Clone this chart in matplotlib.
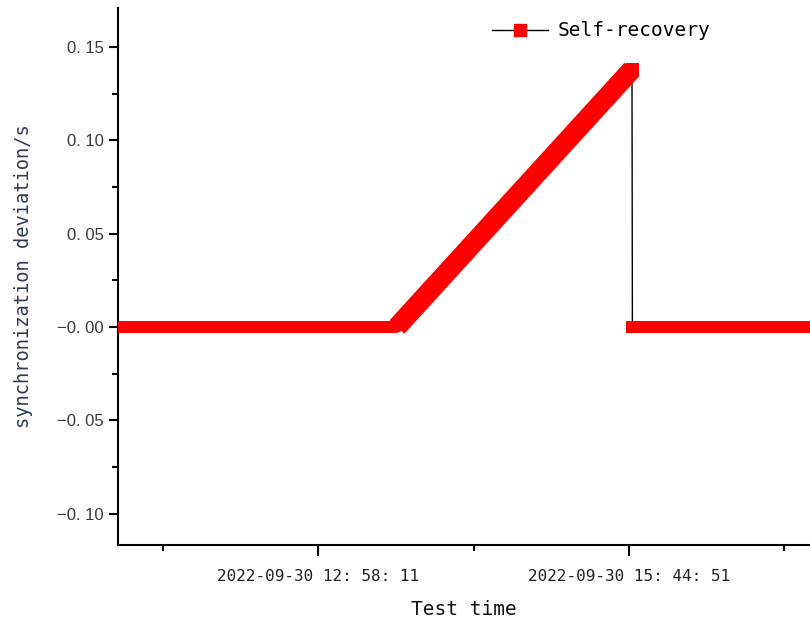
import matplotlib
matplotlib.use("Agg")
import matplotlib.pyplot as plt
import matplotlib.dates as mdates
from matplotlib.patches import Rectangle
from matplotlib.ticker import FixedLocator
import pandas as pd

# data
rise_times = ['2022-09-30 11:11:00', '2022-09-30 13:40:31', '2022-09-30 15:46:27']
rise_dev = [0.0, 0.0, 0.138]
after_times = ['2022-09-30 15:46:40', '2022-09-30 17:21:51']
after_dev = [0.0, 0.0]

xlim_times = ['2022-09-30 11:11:00', '2022-09-30 17:21:51']
major_times = ['2022-09-30 12:58:11', '2022-09-30 15:44:51']
minor_times = ['2022-09-30 11:34:51', '2022-09-30 14:21:31', '2022-09-30 17:08:11']
major_labels = ['2022-09-30 12: 58: 11', '2022-09-30 15: 44: 51']
y_ticks = [0.15, 0.10, 0.05, 0.0, -0.05, -0.10]
y_labels = ['0. 15', '0. 10', '0. 05', '\u22120. 00', '\u22120. 05', '\u22120. 10']
y_minor = [0.125, 0.075, 0.025, -0.025, -0.075]

to_num = lambda ts: mdates.date2num(pd.to_datetime(ts))
rise_x = to_num(rise_times)
after_x = to_num(after_times)

mono = 'DejaVu Sans Mono'
sans = 'Liberation Sans'
fig = plt.figure(figsize=(8.10, 6.21), dpi=100)
ax = fig.add_axes([118 / 810, 76 / 621, 1 - 118 / 810, (545 - 8) / 621])

red = '#ff0000'
px = 72 / 100  # one pixel in points

ax.set_xlim(to_num(xlim_times))
ax.set_ylim(-0.1168, 0.1709)

# thin black connecting line under the markers
ax.plot([rise_x[-1], after_x[0]], [rise_dev[-1], after_dev[0]], color='black', lw=1.0, zorder=2)
# thick red band made by dense square markers
ax.plot(rise_x, rise_dev, color=red, lw=12 * px, solid_capstyle='butt', solid_joinstyle='bevel', zorder=3)
ramp, = ax.plot(rise_x[1:], rise_dev[1:], color=red, lw=20 * px, solid_capstyle='butt', zorder=3)
# keep the wider ramp from poking below the flat band
half_band = 6 / 1866.7
clip = Rectangle((rise_x[0], -half_band), rise_x[-1] - rise_x[0] + 1, 1, transform=ax.transData)
ramp.set_clip_path(clip)
ax.plot(rise_x[-1:], rise_dev[-1:], 's', color=red, ms=13 * px, mew=0, zorder=3)
ax.plot(after_x, after_dev, color=red, lw=12 * px, solid_capstyle='butt', zorder=3)
ax.plot(after_x[:1], after_dev[:1], 's', color=red, ms=12 * px, mew=0, zorder=3)

# legend proxy
ax.plot([], [], color='black', lw=1.0, marker='s', ms=8, mfc=red, mec=red, label='Self-recovery')

ax.xaxis.set_major_locator(FixedLocator(to_num(major_times)))
ax.xaxis.set_minor_locator(FixedLocator(to_num(minor_times)))
ax.set_xticklabels(major_labels, fontfamily=mono, fontsize=11.5, color='#222222')
ax.set_yticks(y_ticks)
ax.set_yticklabels(y_labels, fontfamily=sans, fontsize=12, color='#3a3a3a')
ax.yaxis.set_minor_locator(FixedLocator(y_minor))

for side in ('top', 'right'):
    ax.spines[side].set_visible(False)
for side in ('left', 'bottom'):
    ax.spines[side].set_linewidth(1.5)
ax.tick_params(which='major', direction='out', length=8, width=1.5)
ax.tick_params(which='minor', direction='out', length=4, width=1.5)
ax.tick_params(axis='y', which='major', length=6.5, pad=4)
ax.tick_params(axis='x', which='major', pad=9)

ax.set_xlabel('Test time', fontfamily=mono, fontsize=14, color='#111111', labelpad=12)
ax.set_ylabel('synchronization deviation/s', fontfamily=mono, fontsize=13.5, color='#2e3a55', labelpad=17)

fig.legend(loc='center left', bbox_to_anchor=(492 / 810, 1 - 31 / 621), frameon=False,
           prop={'family': mono, 'size': 14}, handlelength=2.9, handletextpad=0.5,
           borderpad=0, borderaxespad=0)

fig.savefig('out.png', dpi=100)
